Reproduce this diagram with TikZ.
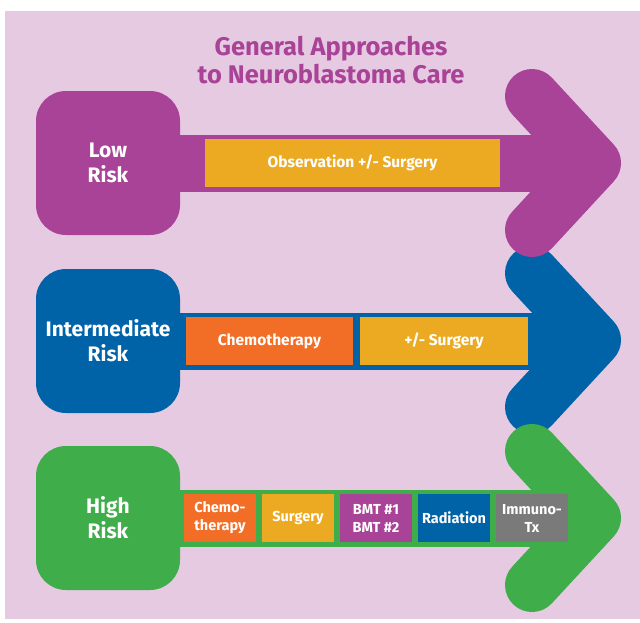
\documentclass[tikz,border=0pt]{standalone}
\usepackage{fontspec}
\setmainfont{Fira Sans}
\usetikzlibrary{positioning, calc}
\newcommand{\boxSize}{144pt}
\newcommand{\boxRadius}{30pt}
\newcommand{\shaftHalf}{28.5pt}
\newcommand{\headWidth}{54pt}
\newcommand{\headBack}{62}
\newcommand{\headSpan}{67}
\newcommand{\stepHeight}{48pt}
\newcommand{\stepGap}{6pt}
\newcommand{\smallStep}{72pt}
\definecolor{bgPink}{RGB}{230,202,226}
\definecolor{lowPurple}{RGB}{169,67,151}
\definecolor{midBlue}{RGB}{0,99,168}
\definecolor{highGreen}{RGB}{64,173,75}
\definecolor{stepOrange}{RGB}{242,109,37}
\definecolor{stepYellow}{RGB}{235,170,34}
\definecolor{stepGray}{RGB}{122,122,122}
\tikzstyle{panel}=[draw=none, inner sep=0, outer sep=0]
\tikzstyle{riskBox}=[panel, minimum width=\boxSize, minimum height=\boxSize, rounded corners=\boxRadius, text=white, align=center, font=\bfseries\fontsize{21}{25}\selectfont]
\tikzstyle{head}=[line width=\headWidth, line cap=round, line join=round]
\tikzstyle{stepBox}=[panel, minimum height=\stepHeight, text=white, align=center, anchor=west, font=\bfseries\fontsize{15.5}{19}\selectfont]
\tikzstyle{smallStepBox}=[stepBox, minimum width=\smallStep, font=\bfseries\fontsize{14.5}{18}\selectfont]
\tikzstyle{titleText}=[panel, align=center, text=lowPurple, font=\bfseries\fontsize{25.5}{28}\selectfont]

\begin{document}
\begin{tikzpicture}[x=1pt, y=-1pt]

% Frame
\useasboundingbox (0,0) rectangle (640,622);
\fill[bgPink] (5,11) rectangle (640,619);

% Title
\node[titleText] (title) at (331,60) {General Approaches\\to Neuroblastoma Care};

% Useful coordinates
\coordinate (lowTip) at (594,163);
\coordinate (midTip) at (594,340);
\coordinate (highTip) at (594,518);

% Intermediate risk (drawn first, the other heads lie over it)
\node[riskBox, fill=midBlue] (midRisk) at (108,341) {Intermediate\\Risk};
\fill[midBlue] ([yshift=\shaftHalf]midRisk.east) rectangle ([xshift=-9pt, yshift=-\shaftHalf]midRisk.east-|midTip);
\draw[head, draw=midBlue] ($(midTip)+(-\headBack,-\headSpan)$) -- (midTip) -- ($(midTip)+(-\headBack,\headSpan)$);
\node[stepBox, fill=stepOrange, minimum width=167pt, xshift=6pt] (midChemo) at (midRisk.east) {Chemotherapy};
\node[stepBox, fill=stepYellow, minimum width=168pt, right=7pt of midChemo] (midSurgery) {+/- Surgery};

% Low risk
\node[riskBox, fill=lowPurple] (lowRisk) at (108,163) {Low\\Risk};
\fill[lowPurple] ([yshift=\shaftHalf]lowRisk.east) rectangle ([xshift=-9pt, yshift=-\shaftHalf]lowRisk.east-|lowTip);
\draw[head, draw=lowPurple] ($(lowTip)+(-\headBack,-\headSpan)$) -- (lowTip) -- ($(lowTip)+(-\headBack,\headSpan)$);
\node[stepBox, fill=stepYellow, minimum width=295pt, xshift=25pt] (lowObs) at (lowRisk.east) {Observation +/- Surgery};

% High risk
\node[riskBox, fill=highGreen] (highRisk) at (108,518) {High\\Risk};
\fill[highGreen] ([yshift=\shaftHalf]highRisk.east) rectangle ([xshift=-9pt, yshift=-\shaftHalf]highRisk.east-|highTip);
\draw[head, draw=highGreen] ($(highTip)+(-\headBack,-\headSpan)$) -- (highTip) -- ($(highTip)+(-\headBack,\headSpan)$);
\node[smallStepBox, fill=stepOrange, xshift=4pt] (highChemo) at (highRisk.east) {Chemo-\\therapy};
\node[smallStepBox, fill=stepYellow, right=\stepGap of highChemo] (highSurgery) {Surgery};
\node[smallStepBox, fill=lowPurple, right=\stepGap of highSurgery] (highBmt) {BMT \#1\\BMT \#2};
\node[smallStepBox, fill=midBlue, right=\stepGap of highBmt] (highRadiation) {Radiation};
\node[smallStepBox, fill=stepGray, right=\stepGap of highRadiation] (highImmuno) {Immuno-\\Tx};

\end{tikzpicture}
\end{document}
